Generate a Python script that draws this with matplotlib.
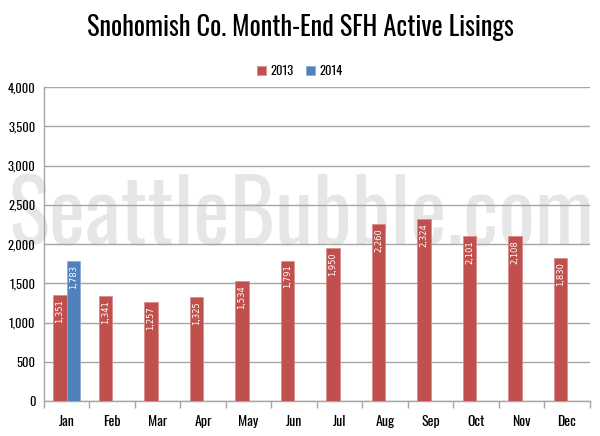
import numpy as np
import matplotlib
matplotlib.use('Agg')
import matplotlib.pyplot as plt

months = ['Jan', 'Feb', 'Mar', 'Apr', 'May', 'Jun', 'Jul', 'Aug', 'Sep', 'Oct', 'Nov', 'Dec']
listings_2013 = [1351, 1341, 1257, 1325, 1534, 1791, 1950, 2260, 2324, 2101, 2108, 1830]
listings_2014 = [1783]
yticks = [0, 500, 1000, 1500, 2000, 2500, 3000, 3500, 4000]

red = '#C0504D'
blue = '#4F81BD'
grid = '#a6a6a6'
cond = 'Oswald'

fig = plt.figure(figsize=(6, 4.36), dpi=100)
ax = fig.add_axes([0.073, 0.080, 0.910, 0.720])

x = np.arange(len(months))
w = 0.29
b13 = ax.bar(x - w / 2, listings_2013, w, color=red, edgecolor='#d88a88', linewidth=0.5, zorder=3, label='2013')
b14 = ax.bar(x[:len(listings_2014)] + w / 2, listings_2014, w, color=blue, edgecolor='#8aa9d4', linewidth=0.5, zorder=3, label='2014')

# value labels inside the top of each bar
for bars in (b13, b14):
    for r in bars:
        v = r.get_height()
        ax.annotate('{:,}'.format(v), (r.get_x() + r.get_width() / 2, v),
                    xytext=(0, -3), textcoords='offset points',
                    rotation=90, ha='center', va='top', color='white',
                    fontsize=6, zorder=4)

ax.set_xlim(-0.5, len(months) - 0.5)
ax.set_ylim(0, 4000)
ax.set_yticks(yticks)
ax.set_yticklabels(['{:,}'.format(t) for t in yticks], family=cond, fontsize=9)
ax.set_xticks(x)
ax.set_xticklabels(months, family=cond, fontsize=10)
ax.set_xticks(np.arange(len(months) + 1) - 0.5, minor=True)
ax.tick_params(axis='x', which='major', length=0, pad=10)
ax.tick_params(axis='x', which='minor', length=5, color=grid, width=1)
ax.tick_params(axis='y', length=0, pad=6)
ax.yaxis.grid(True, color=grid, linewidth=1, zorder=1)
ax.set_axisbelow(True)
for s in ('top', 'right'):
    ax.spines[s].set_visible(False)
for s in ('left', 'bottom'):
    ax.spines[s].set_color(grid)
    ax.spines[s].set_linewidth(1)

# watermark, fit to width
wm = fig.text(0.502, 0.438, 'SeattleBubble.com', family=cond, fontweight='bold',
              fontsize=60, color='#e6e6e6', ha='center', va='baseline', zorder=0)
fig.canvas.draw()
ext = wm.get_window_extent()
wm.set_fontsize(60 * 586 / ext.width)
ax.set_zorder(1)
ax.patch.set_alpha(0)

fig.text(0.5, 0.936, 'Snohomish Co. Month-End SFH Active Lisings', family=cond,
         fontsize=19, ha='center', va='center')
fig.legend(handles=[b13, b14], loc='center', bbox_to_anchor=(0.5, 0.837), ncol=2,
           frameon=False, prop={'family': cond, 'size': 9}, handlelength=0.7,
           handleheight=0.7, handletextpad=0.4, columnspacing=1.0)

fig.savefig('out.png', dpi=100)
